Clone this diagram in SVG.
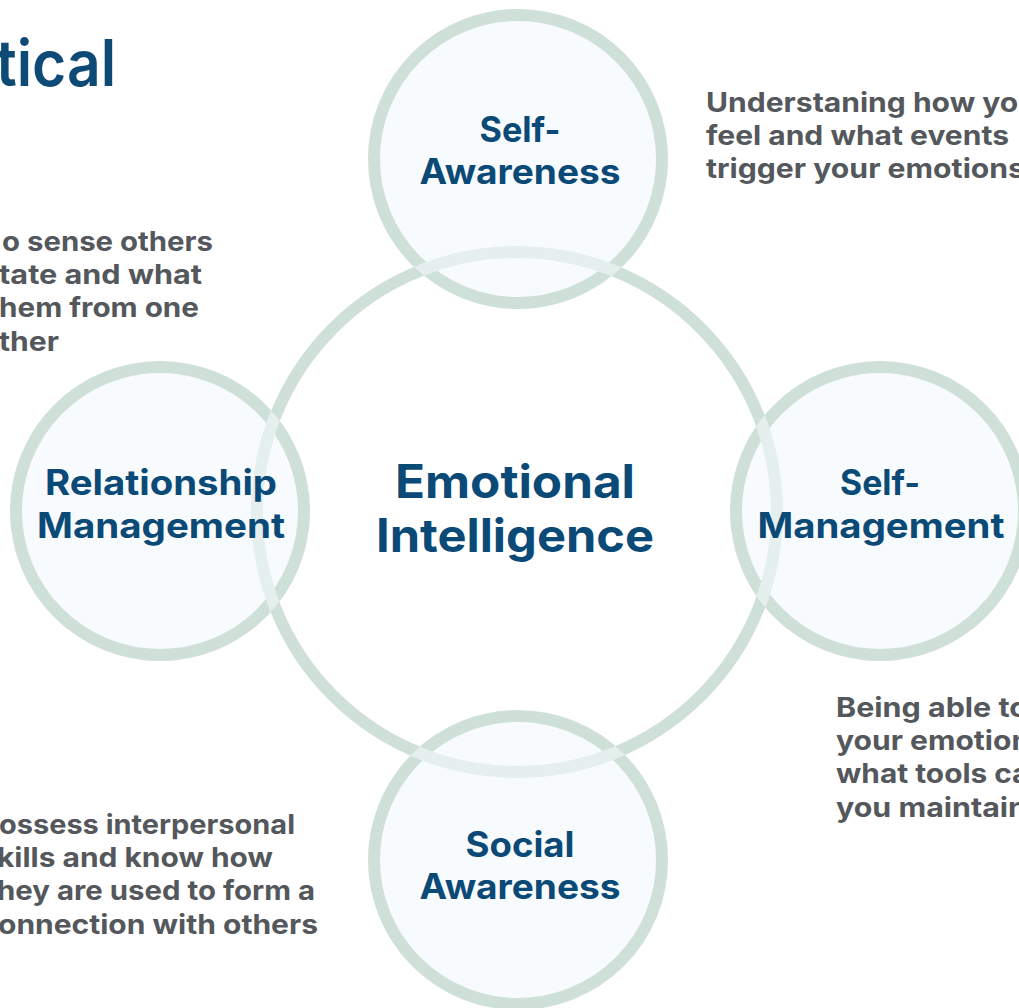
<svg xmlns="http://www.w3.org/2000/svg" width="1019" height="1008" viewBox="0 0 1019 1008">
  <defs>
    <style>
      .ring { fill: none; stroke: #cfe0d9; stroke-width: 12; }
      .disk { fill: #f2f8fc; fill-opacity: 0.6; }
      .label { font-family: Inter, "Open Sans", "Liberation Sans", sans-serif; font-weight: 700; fill: #0b4a77; text-anchor: middle; }
      .small { font-size: 35px; }
      .big { font-size: 46px; }
      .desc { font-family: Inter, "Open Sans", "Liberation Sans", sans-serif; font-weight: 700; font-size: 27px; fill: #54585c; }
      .end { text-anchor: end; }
      .title { font-family: Inter, "Open Sans", "Liberation Sans", sans-serif; font-weight: 600; font-size: 64px; fill: #0e4a76; text-anchor: end; }
    </style>
    <!-- hides the outer ring wherever the central ring band passes -->
    <mask id="skip-center-band" maskUnits="userSpaceOnUse" x="0" y="0" width="1019" height="1008">
      <rect x="0" y="0" width="1019" height="1008" fill="#fff"/>
      <circle cx="517" cy="512" r="260" fill="none" stroke="#000" stroke-width="12"/>
    </mask>
  </defs>

  <rect width="1019" height="1008" fill="#ffffff"/>

  <!-- heading -->
  <text class="title" x="116" y="86" textLength="120" lengthAdjust="spacingAndGlyphs">tical</text>

  <!-- central node -->
  <g id="emotional-intelligence">
    <circle class="ring" cx="517" cy="512" r="260"/>
    <text class="label big" x="515" y="498" textLength="240" lengthAdjust="spacingAndGlyphs">Emotional</text>
    <text class="label big" x="515" y="552" textLength="278" lengthAdjust="spacingAndGlyphs">Intelligence</text>
  </g>

  <!-- outer nodes -->
  <g id="self-awareness">
    <circle class="disk" cx="518" cy="159" r="150"/>
    <circle class="ring" cx="518" cy="159" r="144" mask="url(#skip-center-band)"/>
    <text class="label small" x="520" y="142" textLength="81" lengthAdjust="spacingAndGlyphs">Self-</text>
    <text class="label small" x="520" y="184" textLength="201" lengthAdjust="spacingAndGlyphs">Awareness</text>
  </g>

  <g id="self-management">
    <circle class="disk" cx="880" cy="511" r="150"/>
    <circle class="ring" cx="880" cy="511" r="144" mask="url(#skip-center-band)"/>
    <text class="label small" x="880" y="495" textLength="80" lengthAdjust="spacingAndGlyphs">Self-</text>
    <text class="label small" x="881" y="538" textLength="247" lengthAdjust="spacingAndGlyphs">Management</text>
  </g>

  <g id="social-awareness">
    <circle class="disk" cx="518" cy="860" r="150"/>
    <circle class="ring" cx="518" cy="860" r="144" mask="url(#skip-center-band)"/>
    <text class="label small" x="520" y="857" textLength="109" lengthAdjust="spacingAndGlyphs">Social</text>
    <text class="label small" x="520" y="899" textLength="201" lengthAdjust="spacingAndGlyphs">Awareness</text>
  </g>

  <g id="relationship-management">
    <circle class="disk" cx="160" cy="511" r="150"/>
    <circle class="ring" cx="160" cy="511" r="144" mask="url(#skip-center-band)"/>
    <text class="label small" x="161" y="495" textLength="232" lengthAdjust="spacingAndGlyphs">Relationship</text>
    <text class="label small" x="161" y="538" textLength="248" lengthAdjust="spacingAndGlyphs">Management</text>
  </g>

  <!-- descriptions -->
  <g id="desc-self-awareness" class="desc">
    <text x="706" y="112" textLength="331" lengthAdjust="spacingAndGlyphs">Understaning how you</text>
    <text x="706" y="145" textLength="303" lengthAdjust="spacingAndGlyphs">feel and what events</text>
    <text x="706" y="178" textLength="319" lengthAdjust="spacingAndGlyphs">trigger your emotions</text>
  </g>

  <g id="desc-social-awareness" class="desc">
    <text class="end" x="213" y="251" textLength="211" lengthAdjust="spacingAndGlyphs">o sense others</text>
    <text class="end" x="202" y="284" textLength="203" lengthAdjust="spacingAndGlyphs">tate and what</text>
    <text class="end" x="199" y="317" textLength="200" lengthAdjust="spacingAndGlyphs">hem from one</text>
    <text class="end" x="59" y="351" textLength="60" lengthAdjust="spacingAndGlyphs">ther</text>
  </g>

  <g id="desc-self-management" class="desc">
    <text x="836" y="717" textLength="192" lengthAdjust="spacingAndGlyphs">Being able to</text>
    <text x="836" y="750" textLength="211" lengthAdjust="spacingAndGlyphs">your emotions</text>
    <text x="836" y="783" textLength="212" lengthAdjust="spacingAndGlyphs">what tools can</text>
    <text x="836" y="817" textLength="191" lengthAdjust="spacingAndGlyphs">you maintain</text>
  </g>

  <g id="desc-relationship-management" class="desc">
    <text class="end" x="295" y="834" textLength="296" lengthAdjust="spacingAndGlyphs">ossess interpersonal</text>
    <text class="end" x="273" y="867" textLength="276" lengthAdjust="spacingAndGlyphs">kills and know how</text>
    <text class="end" x="315" y="900" textLength="318" lengthAdjust="spacingAndGlyphs">hey are used to form a</text>
    <text class="end" x="318" y="934" textLength="320" lengthAdjust="spacingAndGlyphs">onnection with others</text>
  </g>
</svg>
